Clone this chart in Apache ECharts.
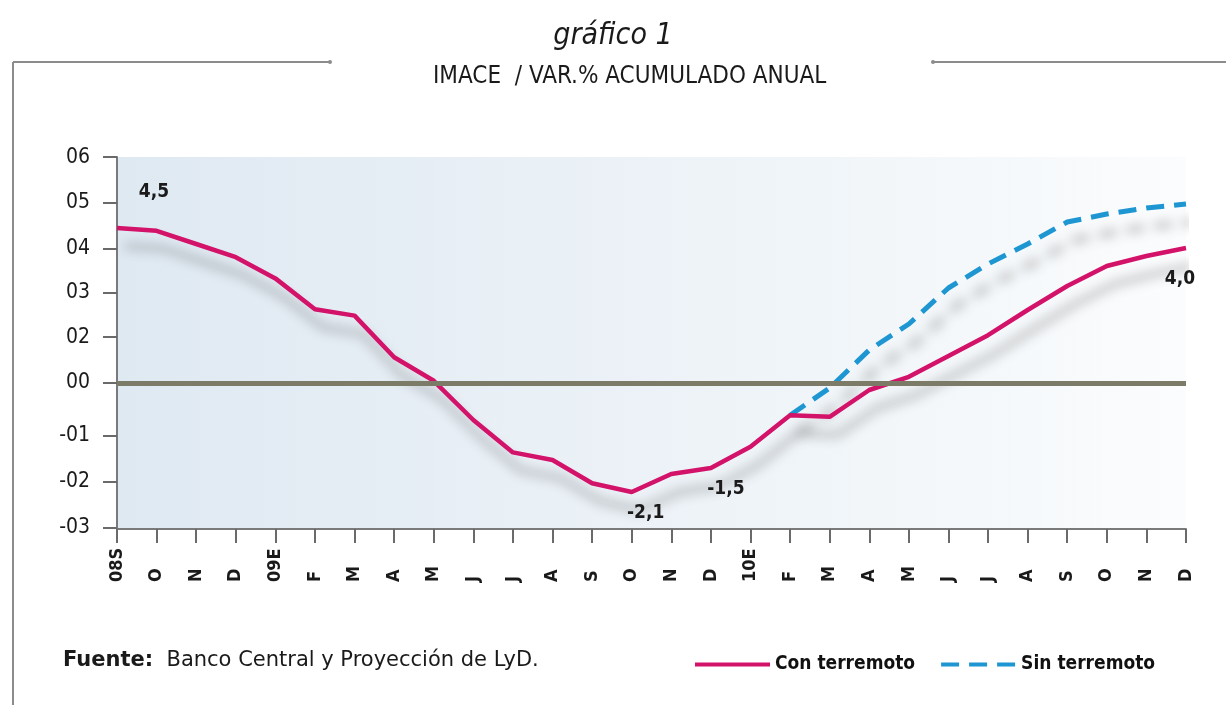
<!DOCTYPE html>
<html>
<head>
<meta charset="utf-8">
<script src="https://cdn.jsdelivr.net/npm/echarts@6/dist/echarts.min.js"></script>
<style>
html,body{margin:0;padding:0;background:#fff;}
#chart{width:1226px;height:705px;}
</style>
</head>
<body>
<div id="chart"></div>
<script>
// ---- data ----
var months = ['08S','O','N','D','09E','F','M','A','M','J','J','A','S','O','N','D','10E','F','M','A','M','J','J','A','S','O','N','D'];
var conTerremoto = [4.5,4.43,4.1,3.77,3.24,2.47,2.31,1.27,0.68,-0.3,-1.11,-1.3,-1.88,-2.1,-1.65,-1.5,-0.97,-0.18,-0.22,0.45,0.78,1.3,1.82,2.45,3.05,3.55,3.8,4.0];
var sinTerremoto = [null,null,null,null,null,null,null,null,null,null,null,null,null,null,null,null,null,-0.18,0.5,1.45,2.1,3.0,3.6,4.1,4.65,4.85,5.0,5.1];
var yTickValues = [-3.0,-1.85,-0.7,0.63,1.77,2.88,3.99,5.13,6.27];
var yTickLabels = ['-03','-02','-01','00','02','03','04','05','06'];
var labelledPoints = [0,13,15,27];

// ---- chart ----
var FONT = "'Liberation Sans Narrow','DejaVu Sans Condensed','Roboto Condensed','Liberation Sans',sans-serif";
var FONT_WIDE = "'DejaVu Sans','Liberation Sans',sans-serif";
var chart = echarts.init(document.getElementById('chart'), null, {renderer:'canvas'});
var PINK = '#d3126a', BLUE = '#1e96d2';
var labelOffsets = {0:[37,-36], 13:[14,21], 15:[15,21], 27:[-6,31]};
function fmt(v){ return String(v.toFixed(1)).replace('.', ','); }

var option = {
  animation:false,
  backgroundColor:'#ffffff',
  title:[
    {text:'gráfico 1', left:'center', top:16,
      textStyle:{fontFamily:FONT, fontStyle:'italic', fontWeight:'normal', fontSize:30, color:'#1a1a1a'}},
    {text:'IMACE  / VAR.% ACUMULADO ANUAL', left:428, top:60,
      textStyle:{fontFamily:FONT, fontWeight:'normal', fontSize:24, color:'#1a1a1a'}}
  ],
  grid:{left:117, right:40, top:157, bottom:176, show:true, borderWidth:0,
    backgroundColor:new echarts.graphic.LinearGradient(0,0,1,0,[
      {offset:0,color:'#dfe9f2'},{offset:0.5,color:'#ecf2f7'},{offset:0.85,color:'#f6f9fb'},{offset:1,color:'#fbfcfd'}])},
  legend:{
    left:688, top:650, itemWidth:75, itemHeight:12, itemGap:24,
    data:['Con terremoto','Sin terremoto'],
    textStyle:{fontFamily:FONT, fontSize:19, fontWeight:'bold', color:'#111'},
    itemStyle:{opacity:0},
    lineStyle:{width:4, shadowBlur:0, shadowOffsetX:0, shadowOffsetY:0, shadowColor:'rgba(0,0,0,0)'}
  },
  xAxis:{
    type:'category', data:months, boundaryGap:false,
    axisLine:{onZero:false, lineStyle:{color:'#7a7a7a', width:2}},
    axisTick:{show:true, length:14, interval:0, lineStyle:{color:'#6a6a6a', width:2}},
    axisLabel:{interval:0, rotate:90, align:'left', verticalAlign:'middle', margin:53,
      fontFamily:FONT, fontSize:18, fontWeight:'bold', color:'#1a1a1a'},
    splitLine:{show:false}
  },
  yAxis:{
    type:'value', min:-3.025, max:6.275,
    axisLine:{show:true, onZero:false, lineStyle:{color:'#7a7a7a', width:2}},
    axisTick:{show:true, length:14, customValues:yTickValues, lineStyle:{color:'#6a6a6a', width:2}},
    axisLabel:{customValues:yTickValues, margin:27, fontFamily:FONT, fontSize:21, color:'#1a1a1a',
      formatter:function(v){
        var best=0, d=1e9;
        for (var i=0;i<yTickValues.length;i++){ var dd=Math.abs(yTickValues[i]-v); if(dd<d){d=dd;best=i;} }
        return yTickLabels[best];
      }},
    splitLine:{show:false}
  },
  series:[
    {name:'zero', type:'line', data:[], z:1, silent:true,
      markLine:{silent:true, symbol:'none', label:{show:false},
        lineStyle:{color:'#7b7b68', width:5, type:'solid'},
        data:[{yAxis:yTickValues[yTickLabels.indexOf('00')]}]}},
    {name:'Sin terremoto', type:'line', data:sinTerremoto, z:3, symbol:'none',
      lineStyle:{color:BLUE, width:5, type:[18,10], cap:'butt',
        shadowColor:'rgba(70,70,70,0.45)', shadowBlur:12, shadowOffsetX:8, shadowOffsetY:18},
      itemStyle:{color:BLUE}},
    {name:'Con terremoto', type:'line', data:conTerremoto, z:4, symbol:'none',
      lineStyle:{color:PINK, width:4.5,
        shadowColor:'rgba(70,70,70,0.45)', shadowBlur:12, shadowOffsetX:8, shadowOffsetY:18},
      itemStyle:{color:PINK},
      markPoint:{symbol:'circle', symbolSize:1, itemStyle:{color:'rgba(0,0,0,0)'},
        data:labelledPoints.map(function(i){
          return {coord:[i, conTerremoto[i]], value:conTerremoto[i],
            label:{show:true, position:'inside', offset:labelOffsets[i], formatter:fmt(conTerremoto[i]),
              fontFamily:FONT, fontSize:19, fontWeight:'bold', color:'#1a1a1a'}};
        })}}
  ],
  graphic:[
    {type:'line', shape:{x1:13,y1:62,x2:330,y2:62}, style:{stroke:'#8c8c8c', lineWidth:2}},
    {type:'line', shape:{x1:13,y1:62,x2:13,y2:705}, style:{stroke:'#8c8c8c', lineWidth:2}},
    {type:'line', shape:{x1:933,y1:62,x2:1226,y2:62}, style:{stroke:'#8c8c8c', lineWidth:2}},
    {type:'circle', shape:{cx:330,cy:62,r:2}, style:{fill:'#8c8c8c'}},
    {type:'circle', shape:{cx:933,cy:62,r:2}, style:{fill:'#8c8c8c'}},
    {type:'text', left:63, top:650, style:{
      text:'{b|Fuente:}  Banco Central y Proyección de LyD.',
      font:'21px ' + FONT_WIDE, fill:'#1a1a1a',
      rich:{b:{fontFamily:FONT_WIDE, fontSize:21, fontWeight:'bold', fill:'#1a1a1a'}}}}
  ]
};
chart.setOption(option);
</script>
</body>
</html>
